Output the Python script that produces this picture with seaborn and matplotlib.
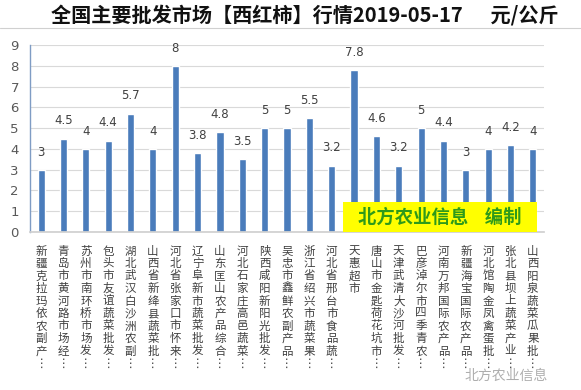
import matplotlib
matplotlib.use("Agg")
import matplotlib.pyplot as plt
import matplotlib.patches as mpatches
import seaborn as sns
import pandas as pd

markets = [
    "新疆克拉玛依农副产…", "青岛市黄河路市场经…", "苏州市南环桥市场发…", "包头市友谊蔬菜批发…",
    "湖北武汉白沙洲农副…", "山西省新绛县蔬菜批…", "河北省张家口市怀来…", "辽宁阜新市蔬菜批发…",
    "山东匡山农产品综合…", "河北石家庄高邑蔬菜…", "陕西咸阳新阳光批发…", "吴忠市鑫鲜农副产品…",
    "浙江省绍兴市蔬菜果…", "河北省邢台市食品蔬…", "天惠超市", "唐山市金匙荷花坑市…",
    "天津武清大沙河批发…", "巴彦淖尔市四季青农…", "河南万邦国际农产品…", "新疆海宝国际农产品…",
    "河北馆陶金凤禽蛋批…", "张北县坝上蔬菜产业…", "山西阳泉蔬菜瓜果批…",
]
prices = [3, 4.5, 4, 4.4, 5.7, 4, 8, 3.8, 4.8, 3.5, 5, 5, 5.5, 3.2, 7.8, 4.6, 3.2, 5, 4.4, 3, 4, 4.2, 4]
title = "全国主要批发市场【西红柿】行情2019-05-17      元/公斤"
yticks = list(range(0, 10))

sns.set_theme(style="white")
plt.rcParams['font.family'] = ['Noto Sans CJK SC', 'DejaVu Sans']

df = pd.DataFrame({"market": markets, "price": prices})

W, H = 581, 390
fig = plt.figure(figsize=(5.81, 3.90), dpi=100)
ax = fig.add_axes([30/W, (H-232)/H, (544-30)/W, (232-45)/H])
sns.barplot(data=df, x="market", y="price", color="#4a7cbb", saturation=1, width=0.32, ax=ax)

ax.set_ylim(0, 9)
ax.set_yticks(yticks)
ax.set_yticklabels([str(t) for t in yticks], fontsize=9.5, color="#595959", family=['DejaVu Sans'])
ax.yaxis.grid(True, color="#d9d9d9", linewidth=0.8)
ax.set_axisbelow(True)
ax.tick_params(axis='y', length=0, pad=8)
ax.tick_params(axis='x', length=0, pad=9)
for s in ["top", "right"]:
    ax.spines[s].set_visible(False)
ax.spines["left"].set_color("#7f9cc4")
ax.spines["left"].set_linewidth(1.0)
ax.spines["bottom"].set_color("#d0d0d0")
ax.set_xlabel("")
ax.set_ylabel("")

ax.set_xticks(range(len(markets)))
vlabels = ["\n".join(list(m.replace("…", "⋮"))) for m in markets]
ax.set_xticklabels(vlabels, fontsize=8.3, color="#404040", linespacing=0.95, va="top")

for i, v in enumerate(prices):
    ax.annotate(f"{v:g}", (i, v), xytext=(0, 8), textcoords="offset points",
                ha="center", va="bottom", fontsize=8.5, color="#404040", family=['DejaVu Sans'])

fig.text(305/W, (H-15)/H, title, ha="center", va="center", fontsize=14.5, fontweight="bold", color="#111111")
fig.add_artist(plt.Line2D([0, 1], [(H-28)/H, (H-28)/H], transform=fig.transFigure, color="#d0d0d0", linewidth=0.8))

fig.add_artist(mpatches.Rectangle((343/W, (H-232)/H), (537-343)/W, 30/H, transform=fig.transFigure,
                                  facecolor="#ffff00", edgecolor="none", zorder=5))
fig.text(440/W, (H-217)/H, "北方农业信息    编制", ha="center", va="center", fontsize=13.2,
         fontweight="bold", color="#2e9a1a", zorder=6)

fig.text(548/W, (H-376)/H, "北方农业信息", ha="right", va="center", fontsize=10,
         color="#9a9a9a", alpha=0.8, zorder=6)

fig.savefig("out.png", dpi=100)
